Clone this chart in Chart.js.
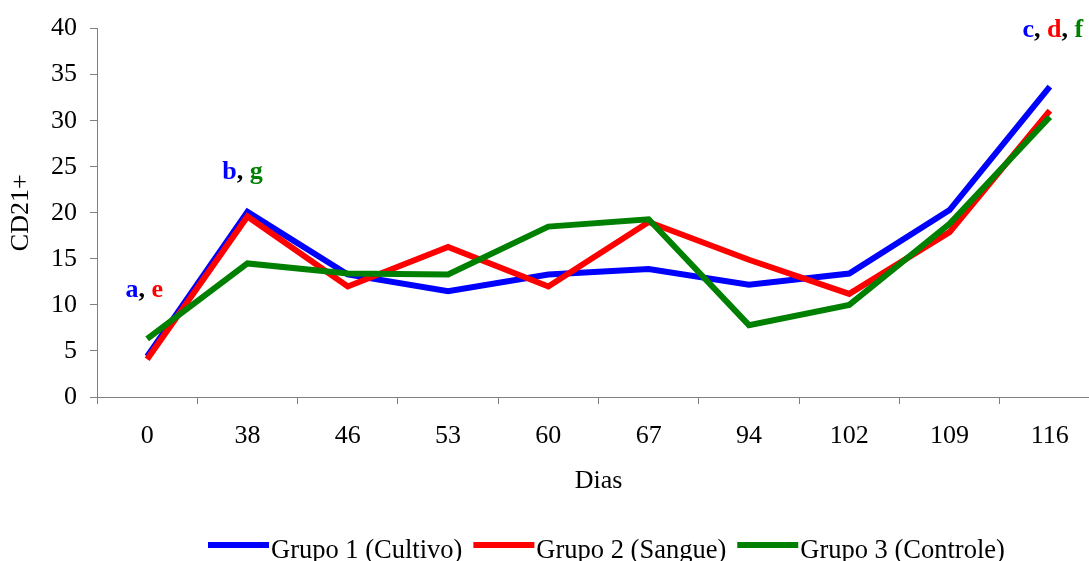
<!DOCTYPE html>
<html>
<head>
<meta charset="utf-8">
<script src="https://cdn.jsdelivr.net/npm/chart.js@4"></script>
<style>
  html, body { margin: 0; padding: 0; background: #fff; overflow: hidden; }
  #chart { display: block; }
</style>
</head>
<body>
<canvas id="chart" width="1110" height="561"></canvas>
<script>
const dias = ['0', '38', '46', '53', '60', '67', '94', '102', '109', '116'];
const grupo1 = [4.4, 20.1, 13.3, 11.5, 13.3, 13.9, 12.2, 13.4, 20.3, 33.7];
const grupo2 = [4.1, 19.6, 12.0, 16.3, 12.0, 19.0, 14.9, 11.2, 17.9, 31.1];
const grupo3 = [6.3, 14.5, 13.4, 13.3, 18.5, 19.3, 7.8, 10.0, 18.8, 30.4];
const seriesNames = ['Grupo 1 (Cultivo)', 'Grupo 2 (Sangue)', 'Grupo 3 (Controle)'];

const BLUE = '#0000ff', RED = '#ff0000', GREEN = '#008000';
const serif = "'Liberation Serif', 'Times New Roman', serif";

// significance letters above the points
const letters = [
  { index: 0, value: 10.9, dx: -3, parts: [['a', BLUE], [', ', '#000'], ['e', RED]] },
  { index: 1, value: 23.7, dx: -5, parts: [['b', BLUE], [', ', '#000'], ['g', GREEN]] },
  { index: 9, value: 39.1, dx: 3, parts: [['c', BLUE], [', ', '#000'], ['d', RED], [', ', '#000'], ['f', GREEN]] }
];

const lettersPlugin = {
  id: 'letters',
  afterDatasetsDraw(chart) {
    const ctx = chart.ctx;
    const xs = chart.scales.x, ys = chart.scales.y;
    ctx.save();
    ctx.font = 'bold 26px ' + serif;
    ctx.textBaseline = 'alphabetic';
    ctx.textAlign = 'left';
    letters.forEach(l => {
      const w = l.parts.reduce((s, p) => s + ctx.measureText(p[0]).width, 0);
      let x = xs.getPixelForValue(l.index) + l.dx - w / 2;
      const y = ys.getPixelForValue(l.value);
      l.parts.forEach(p => {
        ctx.fillStyle = p[1];
        ctx.fillText(p[0], x, y);
        x += ctx.measureText(p[0]).width;
      });
    });
    ctx.restore();
  }
};

// legend drawn by hand: wide line swatch, text right next to it
const legendPlugin = {
  id: 'lineLegend',
  afterDraw(chart) {
    const ctx = chart.ctx;
    ctx.save();
    ctx.font = '26.5px ' + serif;
    ctx.textBaseline = 'alphabetic';
    let x = 208;
    chart.data.datasets.forEach(ds => {
      ctx.fillStyle = ds.borderColor;
      ctx.fillRect(x, 542, 61, 6);
      x += 63;
      ctx.fillStyle = '#000';
      ctx.fillText(ds.label, x, 558);
      x += ctx.measureText(ds.label).width + 11;
    });
    ctx.restore();
  }
};

const tickFont = { family: serif, size: 26 };

new Chart(document.getElementById('chart'), {
  type: 'line',
  data: {
    labels: dias,
    datasets: [
      { label: seriesNames[0], data: grupo1, borderColor: BLUE, backgroundColor: BLUE, order: 3 },
      { label: seriesNames[1], data: grupo2, borderColor: RED, backgroundColor: RED, order: 2 },
      { label: seriesNames[2], data: grupo3, borderColor: GREEN, backgroundColor: GREEN, order: 1 }
    ]
  },
  options: {
    responsive: false,
    animation: false,
    devicePixelRatio: 1,
    layout: { padding: { top: 24, right: 10, left: 0, bottom: 0 } },
    elements: {
      line: { borderWidth: 6, tension: 0, fill: false },
      point: { radius: 0 }
    },
    plugins: {
      legend: { display: false },
      tooltip: { enabled: false }
    },
    scales: {
      x: {
        offset: true,
        grid: { offset: true, drawOnChartArea: false, tickLength: 7, color: '#808080' },
        border: { color: '#808080' },
        ticks: { padding: 17, color: '#000', font: tickFont, maxRotation: 0, autoSkip: false },
        title: { display: true, text: 'Dias', color: '#000', font: tickFont, padding: { top: 0, bottom: 64 } },
        afterFit: s => { s.height = 164; }
      },
      y: {
        min: 0,
        max: 40,
        grid: { drawOnChartArea: false, tickLength: 7, color: '#808080' },
        border: { color: '#808080' },
        ticks: { stepSize: 5, padding: 13, color: '#000', font: tickFont },
        title: { display: true, text: 'CD21+', color: '#000', font: tickFont, padding: { top: 6, bottom: 0 } },
        afterFit: s => { s.width = 97; }
      }
    }
  },
  plugins: [lettersPlugin, legendPlugin]
});
</script>
</body>
</html>
